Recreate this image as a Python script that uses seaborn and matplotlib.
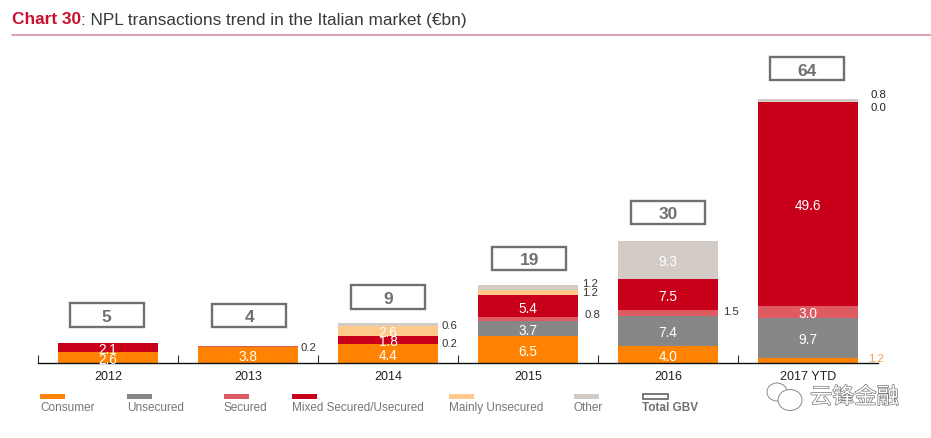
import matplotlib
matplotlib.use("Agg")
import matplotlib.pyplot as plt
import matplotlib.patheffects as pe
from matplotlib.patches import Ellipse, Rectangle
import numpy as np
import seaborn as sns

years = ["2012", "2013", "2014", "2015", "2016", "2017 YTD"]
series_names = ["Consumer", "Unsecured", "Secured", "Mixed Secured/Usecured", "Mainly Unsecured", "Other"]
consumer = [2.6, 3.8, 4.4, 6.5, 4.0, 1.2]
unsecured = [0.0, 0.0, 0.0, 3.7, 7.4, 9.7]
secured = [0.0, 0.2, 0.2, 0.8, 1.5, 3.0]
mixed = [2.1, 0.0, 1.8, 5.4, 7.5, 49.6]
mainly = [0.0, 0.0, 2.6, 1.2, 0.0, 0.0]
other = [0.0, 0.0, 0.6, 1.2, 9.3, 0.8]
totals = ["5", "4", "9", "19", "30", "64"]

colors = ["#FF8300", "#878787", "#DE5B62", "#C8001A", "#FFC98B", "#D2CBC6"]
GREY = "#707070"

sns.set_style("white")
plt.rcParams["font.family"] = ["Liberation Sans", "DejaVu Sans"]

W, H = 931, 439
PX_PER_UNIT = 4.1
fig = plt.figure(figsize=(W / 100, H / 100), dpi=100)
ax = fig.add_axes([38 / W, (H - 363.5) / H, 840 / W, 320 / H])


def px(x, y):
    return x / W, 1 - y / H


# stacked bars
data = np.array([consumer, unsecured, secured, mixed, mainly, other])
bottoms = np.zeros(len(years))
for values, color in zip(data, colors):
    sns.barplot(x=years, y=values, bottom=bottoms, color=color, saturation=1, width=0.72, linewidth=0, ax=ax)
    bottoms = bottoms + values

ax.set_xlim(-0.5, 5.5)
ax.set_ylim(0, 320 / PX_PER_UNIT)
ax.set_xlabel("")
ax.set_ylabel("")
ax.set_yticks([])
sns.despine(ax=ax, left=True)
ax.spines["bottom"].set_color("#111111")
ax.spines["bottom"].set_linewidth(1.0)
ax.set_xticks(np.arange(6) - 0.5, minor=True)
ax.tick_params(axis="x", which="minor", direction="in", length=5.5, width=0.8, color="#333333", bottom=True)
ax.tick_params(axis="x", which="major", length=0, pad=5.5, labelsize=9, labelcolor="#222222")

# labels inside the bars
cum = np.cumsum(data, axis=0)
for s in range(data.shape[0]):
    for i in range(len(years)):
        v = data[s, i]
        if v >= 1.8:
            ax.text(i, cum[s, i] - v / 2, f"{v:.1f}", color="white", fontsize=9.8, ha="center", va="center_baseline")

# labels beside the bars: year, series, dx, dy (pixels, up is positive), colour
side_labels = [
    (1, 2, 2, 1, "#333333"),
    (2, 5, 3, 0, "#333333"),
    (2, 2, 3, 2, "#333333"),
    (3, 5, 4, 6, "#333333"),
    (3, 4, 4, 2, "#333333"),
    (3, 2, 6, 6, "#333333"),
    (4, 2, 5, 3, "#333333"),
    (5, 5, 12, 8, "#222222"),
    (5, 4, 12, -4, "#222222"),
    (5, 0, 10, 3, "#F5A04A"),
]
for i, s, dx, dy, color in side_labels:
    y = cum[s, i] - data[s, i] / 2
    ax.annotate(f"{data[s, i]:.1f}", (i + 0.36, y), xytext=(dx * 0.72, dy * 0.72), textcoords="offset points",
                fontsize=8.2, color=color, ha="left", va="center_baseline")

# total GBV boxes
box_shift = [-0.01, 0.01, 0.0, 0.01, 0.0, -0.01]
box_gap = [6.9, 7.5, 6.4, 6.6, 6.9, 7.4]
tops = cum[-1]
for i, label in enumerate(totals):
    cx = i + box_shift[i]
    cy = tops[i] + box_gap[i]
    ax.add_patch(Rectangle((cx - 0.264, cy - 2.85), 0.528, 5.7, fill=False, edgecolor=GREY, linewidth=1.7))
    ax.text(cx, cy, label, color=GREY, fontsize=12.5, fontweight="bold", ha="center", va="center_baseline")

# title and rule
title_x, title_y = px(12, 20)
t = fig.text(title_x, title_y, "Chart 30", color="#C8102E", fontsize=12.4, fontweight="bold", va="center")
fig.canvas.draw()
bb = t.get_window_extent()
fig.text(bb.x1 / W, title_y, ": NPL transactions trend in the Italian market (€bn)", color="#3A3A3A", fontsize=12.4, va="center")
fig.add_artist(plt.Line2D([12 / W, 1], [1 - 36 / H] * 2, color="#D98E9E", linewidth=1.2))

# legend
legend_x = [40, 127, 224, 292, 449, 574]
for name, color, x in zip(series_names, colors, legend_x):
    fig.add_artist(Rectangle(px(x, 399.5), 25 / W, 4.5 / H, transform=fig.transFigure, color=color, linewidth=0))
    lx, ly = px(x, 408)
    fig.text(lx, ly, name, color="#777777", fontsize=8.5, va="center")
fig.add_artist(Rectangle(px(643, 399.5), 25 / W, 4.5 / H, transform=fig.transFigure, fill=False, edgecolor=GREY, linewidth=1.3))
lx, ly = px(642, 408)
fig.text(lx, ly, "Total GBV", color=GREY, fontsize=8.5, fontweight="bold", va="center")

# watermark
wx, wy = px(810, 398)
fig.text(wx, wy, "云锋金融", family=["Noto Sans CJK SC", "DejaVu Sans"], fontsize=16, color="white", va="center",
         path_effects=[pe.withStroke(linewidth=1.0, foreground="#777777")])
for ex, ey, ew, eh in [(777, 393, 20, 18), (790, 401, 24, 21)]:
    fig.add_artist(Ellipse(px(ex, ey), ew / W, eh / H, transform=fig.transFigure, facecolor="white",
                           edgecolor="#888888", linewidth=0.7))

fig.savefig("out.png", dpi=100, facecolor="white")
